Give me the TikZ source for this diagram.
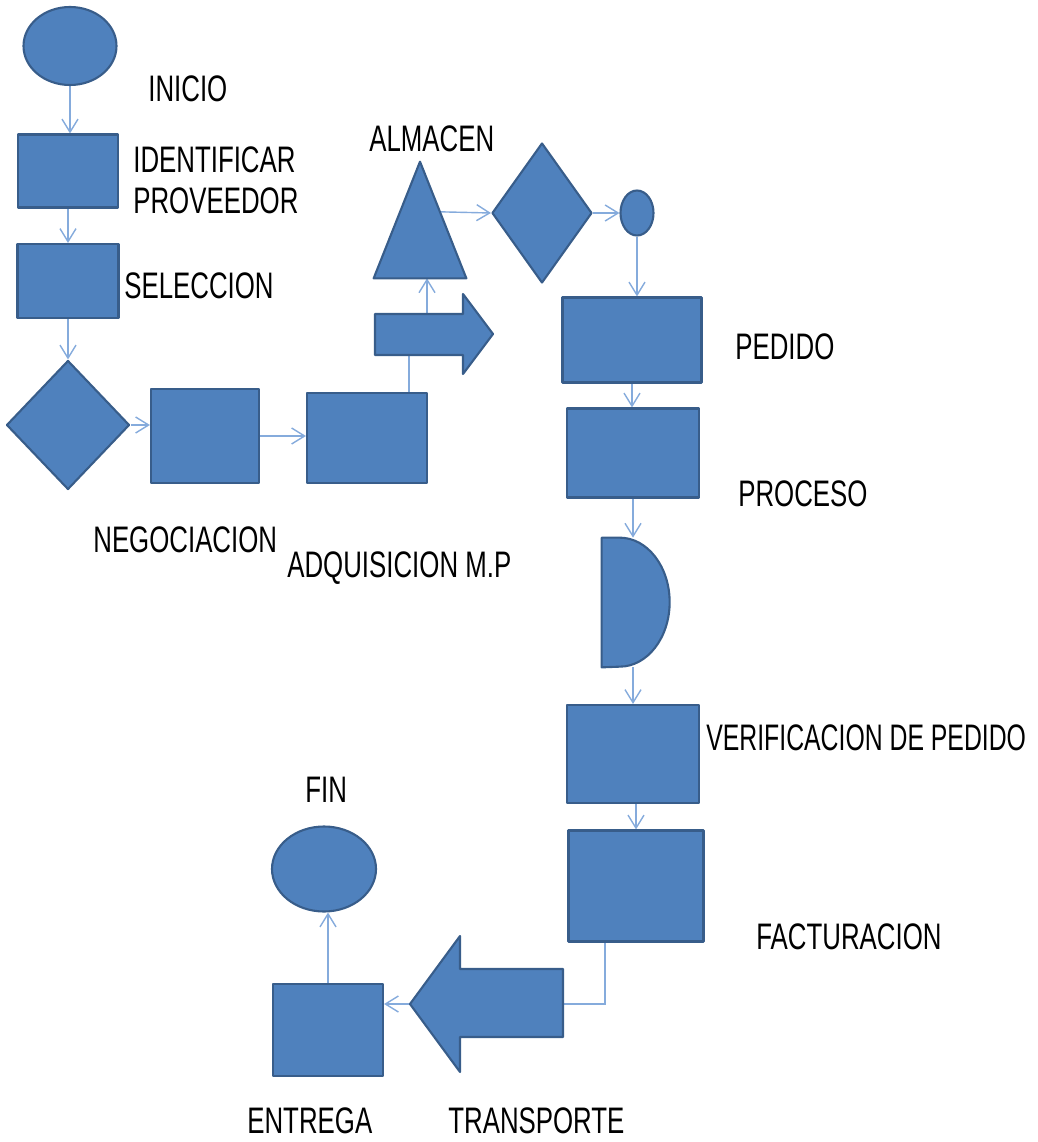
\documentclass[tikz,border=0pt]{standalone}
\usepackage{graphicx}
\usepackage{fontspec}
\setmainfont{Liberation Sans}[FakeStretch=0.70]
\usetikzlibrary{shapes.geometric,arrows.meta,calc,backgrounds}

\definecolor{relleno}{HTML}{4F81BD}
\definecolor{borde}{HTML}{385D8A}
\definecolor{linea}{HTML}{85ABDC}

\tikzset{
  blk/.style={draw=borde,fill=relleno,line width=1.2pt,line join=round},
  caja/.style={blk,rectangle,inner sep=0pt},
  elip/.style={blk,ellipse,inner sep=0pt},
  rombo/.style={blk,diamond,inner sep=0pt},
  marco/.style={rectangle,inner sep=0pt},
  enlace/.style={draw=linea,line width=0.8pt},
  conn/.style={enlace,-{Straight Barb[length=2.6mm,width=3.2mm]}},
  etiq/.style={anchor=west,inner sep=0pt,align=left,font=\fontsize{21pt}{23.5pt}\selectfont}
}

\begin{document}
\begin{tikzpicture}[x=0.2mm,y=-0.2mm]
\useasboundingbox (0,0) rectangle (1037,1142);

% columna izquierda
\node[elip,minimum width=18.6mm,minimum height=15.6mm] (inicio) at (70,46) {};
\node[caja,minimum width=20mm,minimum height=14.6mm] (ident) at (68,171) {};
\node[caja,minimum width=20.2mm,minimum height=14.8mm] (selec) at (68,281) {};
\node[rombo,minimum width=24.6mm,minimum height=25.8mm] (decis1) at (68,425) {};
\node[caja,minimum width=21.6mm,minimum height=18.8mm] (negoc) at (205,436) {};
\node[caja,minimum width=24mm,minimum height=18mm] (adq) at (367,438) {};

% almacen
\draw[blk] (375,314) -- (463,314) -- (463,294) -- (493,334) -- (463,374) -- (463,355) -- (375,355) -- cycle;
\node[marco,minimum width=18.4mm,minimum height=23.2mm] (almacen) at (420,220) {};
\draw[blk] (almacen.south west) -- (almacen.north) -- (almacen.south east) -- cycle;
\node[rombo,minimum width=20mm,minimum height=28mm] (decis2) at (542,213) {};
\node[elip,minimum width=6.6mm,minimum height=9mm] (conector) at (637,213) {};

% columna derecha
\node[caja,minimum width=27.8mm,minimum height=17mm] (pedido) at (632,340) {};
\node[caja,minimum width=26.4mm,minimum height=17.8mm] (proceso) at (633,453) {};
\node[marco,minimum width=13.6mm,minimum height=25.8mm] (espera) at (636,602.5) {};
\draw[blk] (espera.north west) -- ++(18,0) arc[start angle=90,end angle=-90,x radius=10mm,y radius=12.9mm] -- (espera.south west) -- cycle;
\node[caja,minimum width=26.4mm,minimum height=19.6mm] (verif) at (633,754) {};
\node[caja,minimum width=27mm,minimum height=22.2mm] (factura) at (636,886) {};

% abajo
\node[marco,minimum width=30.6mm,minimum height=27.2mm] (transporte) at (486.5,1004) {};
\draw[blk] (563,969) -- (460,969) -- (460,936) -- (410,1004) -- (460,1072) -- (460,1037) -- (563,1037) -- cycle;
\node[caja,minimum width=22mm,minimum height=18.4mm] (entrega) at (328,1030) {};
\node[elip,minimum width=20.8mm,minimum height=17mm] (fin) at (324,869) {};

% textos
\node[etiq] (t-inicio) at (148,89) {INICIO};
\node[etiq] (t-ident) at (133,180) {IDENTIFICAR\\PROVEEDOR};
\node[etiq] (t-selec) at (124,286) {SELECCION};
\node[etiq] (t-negoc) at (93,540) {NEGOCIACION};
\node[etiq] (t-adq) at (287,568) {ADQUISICION M.P};
\node[etiq] (t-almacen) at (369,139) {ALMACEN};
\node[etiq] (t-pedido) at (735,347) {PEDIDO};
\node[etiq] (t-proceso) at (738,494) {PROCESO};
\node[etiq] (t-verif) at (706,738) {\scalebox{0.96}[1]{VERIFICACION DE PEDIDO}};
\node[etiq] (t-factura) at (756,937) {FACTURACION};
\node[etiq] (t-fin) at (305,790) {FIN};
\node[etiq] (t-entrega) at (247,1121) {ENTREGA};
\node[etiq] (t-transporte) at (448,1121) {TRANSPORTE};

% conectores
\begin{scope}[on background layer]
\draw[conn] (inicio) -- (inicio |- ident.north);
\draw[conn] (ident) -- (ident |- selec.north);
\draw[conn] (selec) -- (decis1.north);
\draw[conn] (decis1.east) -- (decis1.east -| negoc.west);
\draw[conn] (negoc) -- (negoc -| adq.west);
\draw[conn] ([xshift=-3.8mm]adq.north east) -- ++(0,-55) -| ([xshift=1.4mm]almacen.south);
\draw[conn] ($(almacen.north)!0.43!(almacen.south east)$) -- (decis2.west);
\draw[conn] (decis2) -- (conector);
\draw[conn] (conector) -- (conector |- pedido.north);
\draw[conn] (pedido) -- (pedido |- proceso.north);
\draw[conn] (proceso) -- (proceso |- espera.north);
\draw[conn] (proceso |- espera.south) -- (proceso |- verif.north);
\draw[conn] (factura |- verif.south) -- (factura.north);
\draw[enlace] ([xshift=-6.2mm]factura.south) |- (transporte.east);
\draw[conn] (transporte.west) -- (transporte.west -| entrega.east);
\draw[conn] (entrega) -- (entrega |- fin.south);
\end{scope}
\end{tikzpicture}
\end{document}
